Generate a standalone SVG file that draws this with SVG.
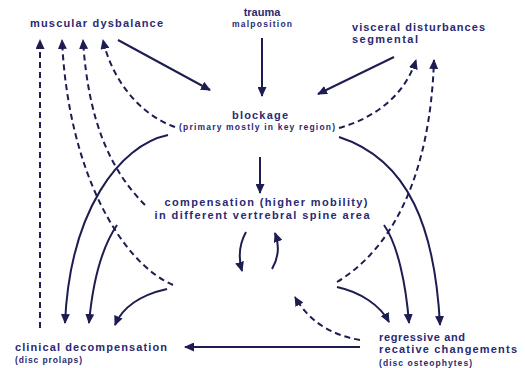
<svg xmlns="http://www.w3.org/2000/svg" width="525" height="368" viewBox="0 0 525 368">
<defs>
<marker id="ah" markerUnits="userSpaceOnUse" markerWidth="10" markerHeight="9" refX="9" refY="4.5" orient="auto" viewBox="0 0 10 9">
<path d="M0,0 L10,4.5 L0,9 z" fill="#1d1d52"/>
</marker>
<style>
.t{font-family:"Liberation Sans",Arial,sans-serif;font-weight:700;fill:#2a2a72}
.b{font-size:11px}
.s{font-size:8.5px}
.c path{fill:none;stroke:#1d1d52;stroke-width:2}
.c .d{stroke-dasharray:6,4}
.c .a{marker-end:url(#ah)}
</style>
</defs>
<rect width="525" height="368" fill="#ffffff"/>
<g id="muscular"><text class="t b" x="30" y="27" textLength="133">muscular dysbalance</text></g>
<g id="trauma"><text class="t b" x="262" y="16" text-anchor="middle">trauma</text><text class="t s" x="262" y="27" text-anchor="middle" textLength="60">malposition</text></g>
<g id="visceral"><text class="t b" x="352" y="31" textLength="133">visceral disturbances</text><text class="t b" x="352" y="43" textLength="66">segmental</text></g>
<g id="blockage"><text class="t b" x="260" y="119" text-anchor="middle" textLength="56">blockage</text><text class="t s" x="257" y="130" text-anchor="middle" textLength="156">(primary mostly in key region)</text></g>
<g id="compensation"><text class="t b" x="266" y="206" text-anchor="middle" textLength="203">compensation (higher mobility)</text><text class="t b" x="262" y="219" text-anchor="middle" textLength="215">in different vertrebral spine area</text></g>
<g id="clinical"><text class="t b" x="15" y="351" textLength="152">clinical decompensation</text><text class="t s" x="15" y="363" textLength="67">(disc prolaps)</text></g>
<g id="regressive"><text class="t b" x="379" y="341" textLength="86">regressive and</text><text class="t b" x="379" y="353" textLength="138">recative changements</text><text class="t s" x="379" y="366" textLength="93">(disc osteophytes)</text></g>
<g id="connectors" class="c">
<path class="a" d="M118,40 L210,90"/>
<path class="a" d="M262,38 L262,96"/>
<path class="a" d="M394,57 L318,94"/>
<path class="a" d="M260,157 L260,193"/>
<path class="a" d="M246,232 Q236,250 242,271"/>
<path class="a" d="M272,269 Q282,252 275,233"/>
<path class="d a" d="M40,328 L40,40"/>
<path class="d a" d="M173,285 C120,262 68,170 62,40"/>
<path class="d a" d="M145,205 C110,170 88,120 83,40"/>
<path class="d a" d="M175,127 C140,115 112,80 103,40"/>
<path class="a" d="M168,135 C120,145 70,210 65,323"/>
<path class="a" d="M117,225 C100,250 92,290 89,323"/>
<path class="a" d="M167,289 C140,295 122,308 115,325"/>
<path class="d a" d="M339,128 C375,118 405,95 416,60"/>
<path class="d a" d="M337,282 C390,250 430,180 434,60"/>
<path class="a" d="M339,137 C410,160 435,230 440,325"/>
<path class="a" d="M384,225 C398,245 406,285 409,323"/>
<path class="a" d="M337,287 C360,292 380,305 389,322"/>
<path class="d a" d="M360,340 C330,335 308,320 295,297"/>
<path class="a" d="M360,347 L185,347"/>
</g>
</svg>
